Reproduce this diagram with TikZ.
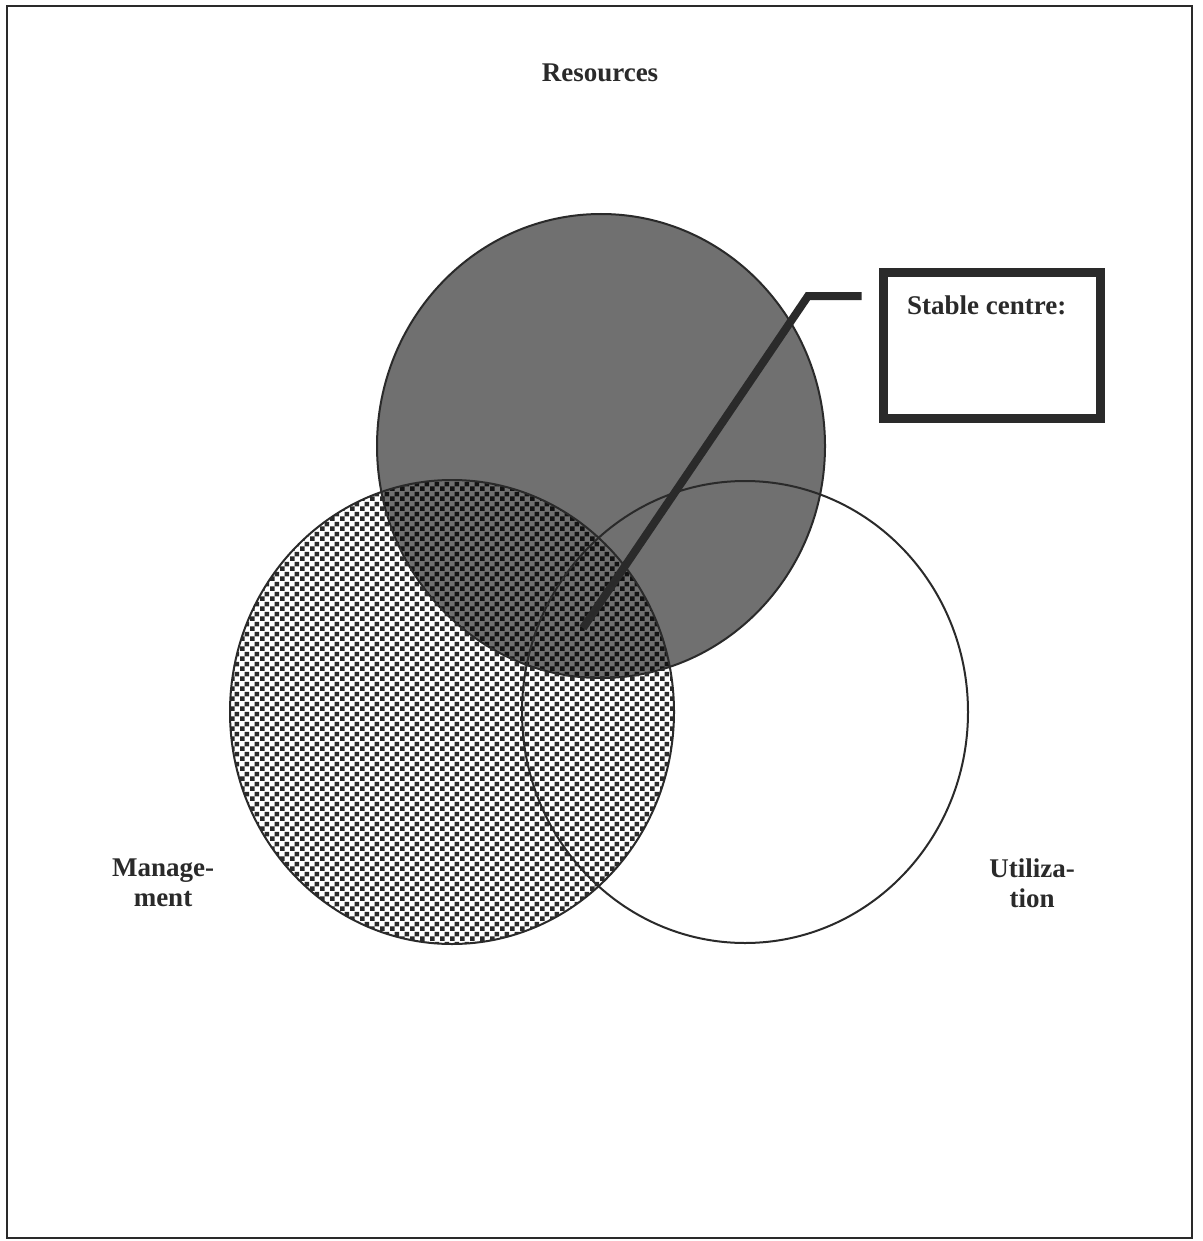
\documentclass[tikz,border=0pt]{standalone}
\usepackage{fontspec}
\setmainfont{Liberation Serif}
\usetikzlibrary{patterns.meta}
\tikzdeclarepattern{
  name=mychecker, type=uncolored,
  bounding box={(0pt,0pt) and (10pt,10pt)},
  tile size={(10pt,10pt)},
  code={\fill (0pt,0pt) rectangle (5pt,5pt); \fill (5pt,5pt) rectangle (10pt,10pt);}
}
\definecolor{ink}{HTML}{2A2A2A}
\tikzset{
  outline/.style={draw=ink, line width=2pt},
  lbl/.style={font=\fontsize{27}{30}\selectfont\bfseries, text=ink, align=center, inner sep=0pt},
}
\begin{document}
\begin{tikzpicture}[x=1pt,y=-1pt]
\useasboundingbox (0,0) rectangle (1202,1241);
\fill[white] (0,0) rectangle (1202,1241);
% page border
\draw[ink, line width=2.5pt] (7,6) rectangle (1192,1238);
% Management (checker)
\fill[white] (452,712) ellipse [x radius=222, y radius=232];
\fill[pattern={mychecker}, pattern color=ink] (452,712) ellipse [x radius=222, y radius=232];
% Resources (gray)
\fill[black, fill opacity=0.56] (601,446) ellipse [x radius=224, y radius=232];
% outlines
\draw[outline] (601,446) ellipse [x radius=224, y radius=232];
\draw[outline] (452,712) ellipse [x radius=222, y radius=232];
\draw[outline] (745,712) ellipse [x radius=223, y radius=231];
% labels
\node[lbl] (res) at (600,73) {Resources};
\node[lbl] (man) at (163,883) {Manage-\\ment};
\node[lbl] (uti) at (1032,883) {Utiliza-\\tion};
% callout box
\node[draw=ink, line width=9pt, minimum width=217pt, minimum height=146pt, inner sep=0pt] (box) at (992,345.5) {};
\node[lbl, anchor=west] (st) at (907,305) {Stable centre:};
\coordinate (tip) at (583,628);
\coordinate (elbow) at (808,296);
\draw[ink, line width=8pt, line join=miter, shorten >=17.5pt] (tip) -- (elbow) -- (elbow -| box.west);
\end{tikzpicture}
\end{document}
